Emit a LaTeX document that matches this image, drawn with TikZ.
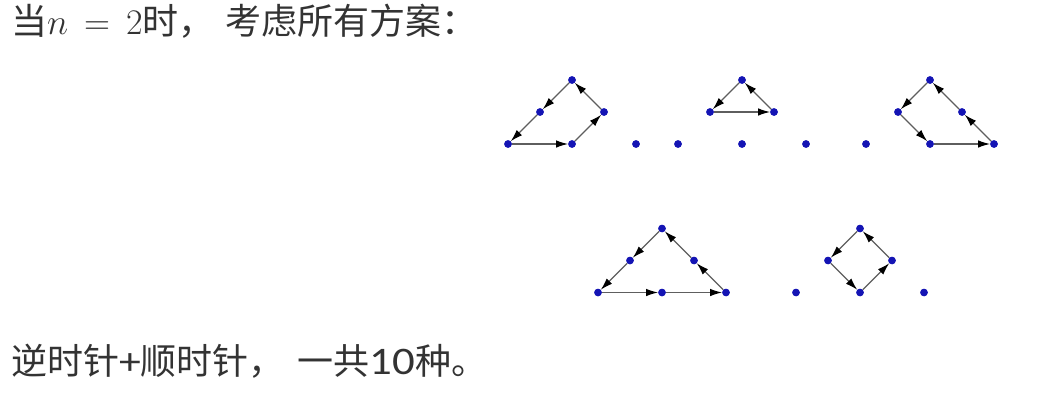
\documentclass[tikz,border=0pt]{standalone}
\usepackage{fix-cm}
\usepackage{fontspec}
\setmainfont{Carlito}
\newfontfamily\cjk{Noto Sans CJK SC}
\newfontfamily\digits[FakeStretch=1.15]{Carlito}
\usetikzlibrary{arrows.meta}
\definecolor{dotblue}{HTML}{1414B4}
\definecolor{edgegray}{HTML}{5E5E5E}
\definecolor{txtgray}{HTML}{333333}
\tikzset{
  pt/.style={circle,fill=dotblue,inner sep=0pt,minimum size=7.5pt},
  cyc/.style={draw=edgegray,line width=1.1pt,-{Latex[length=12pt,width=7.5pt,color=black]}},
  txt/.style={anchor=base west,inner sep=0pt,text=txtgray,font=\fontsize{36}{40}\selectfont}
}
\newcommand{\lattice}[3]{%
  % #1 prefix, #2 x of bottom-left, #3 y of bottom row
  \node[pt] (#1T)  at ({#2+64},{#3-64}) {};
  \node[pt] (#1ML) at ({#2+32},{#3-32}) {};
  \node[pt] (#1MR) at ({#2+96},{#3-32}) {};
  \node[pt] (#1BL) at ({#2},{#3}) {};
  \node[pt] (#1BM) at ({#2+64},{#3}) {};
  \node[pt] (#1BR) at ({#2+128},{#3}) {};
}
\begin{document}
\begin{tikzpicture}[x=1pt,y=-1pt]
\useasboundingbox (0,0) rectangle (1057,415);
\node[txt] (t1) at (11,34) {{\cjk 当}$n\,=\,2${\cjk 时，\hspace{11pt}考虑所有方案：}};
\node[txt] (t2) at (11,374) {{\cjk 逆时针}{\digits\fontsize{38}{40}\selectfont +}{\cjk 顺时针，\hspace{13pt}一共}{\digits\fontsize{39}{40}\selectfont 10}{\cjk 种。}};
% row 1
\lattice{a}{508}{144}
\lattice{b}{678}{144}
\lattice{c}{866}{144}
% row 2
\lattice{d}{598}{292.5}
\lattice{e}{796}{292.5}
% figure a
\draw[cyc] (aT) -- (aML);
\draw[cyc] (aML) -- (aBL);
\draw[cyc] (aBL) -- (aBM);
\draw[cyc] (aBM) -- (aMR);
\draw[cyc] (aMR) -- (aT);
% figure b
\draw[cyc] (bT) -- (bML);
\draw[cyc] (bML) -- (bMR);
\draw[cyc] (bMR) -- (bT);
% figure c
\draw[cyc] (cT) -- (cML);
\draw[cyc] (cML) -- (cBM);
\draw[cyc] (cBM) -- (cBR);
\draw[cyc] (cBR) -- (cMR);
\draw[cyc] (cMR) -- (cT);
% figure d
\draw[cyc] (dT) -- (dML);
\draw[cyc] (dML) -- (dBL);
\draw[cyc] (dBL) -- (dBM);
\draw[cyc] (dBM) -- (dBR);
\draw[cyc] (dBR) -- (dMR);
\draw[cyc] (dMR) -- (dT);
% figure e
\draw[cyc] (eT) -- (eML);
\draw[cyc] (eML) -- (eBM);
\draw[cyc] (eBM) -- (eMR);
\draw[cyc] (eMR) -- (eT);
% dots on top of the lines
\foreach \p in {a,b,c,d,e}{
  \foreach \q in {T,ML,MR,BL,BM,BR}{
    \fill[dotblue] (\p\q) circle (3.75pt);
  }
}
\end{tikzpicture}
\end{document}
